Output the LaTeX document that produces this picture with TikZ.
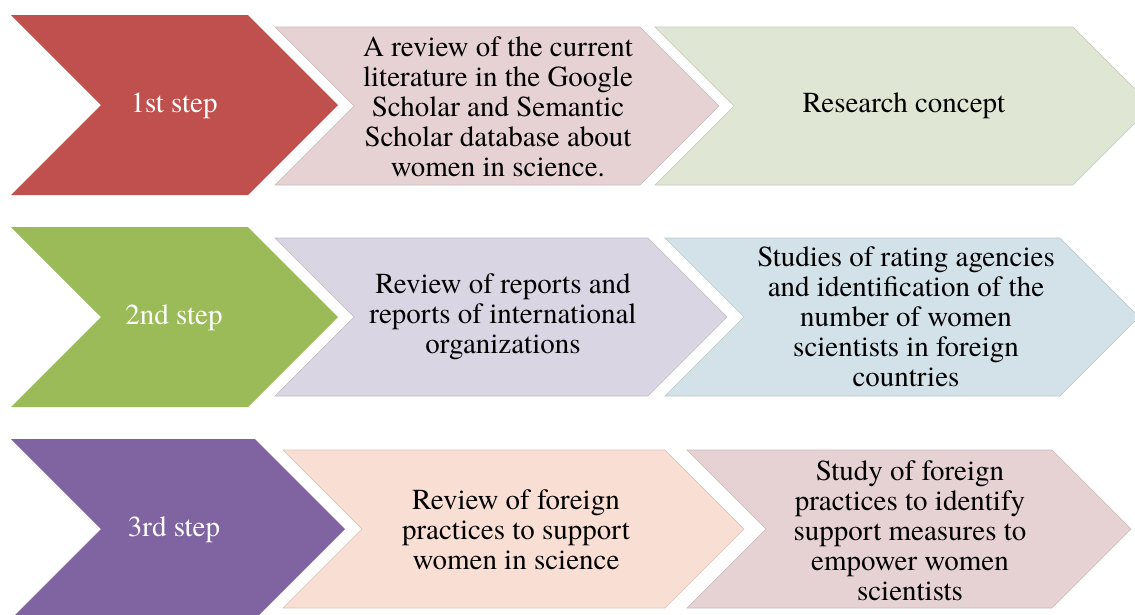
\documentclass[tikz,border=0pt]{standalone}
\usepackage{fontspec}
\setmainfont{texgyretermes}[Extension=.otf, UprightFont=*-regular, BoldFont=*-bold]
\usepackage{tikz}

\definecolor{stepred}{HTML}{C0504D}
\definecolor{stepgreen}{HTML}{9BBB59}
\definecolor{steppurple}{HTML}{8064A2}
\definecolor{taskrose}{HTML}{E6D2D3}
\definecolor{tasksage}{HTML}{DFE6D3}
\definecolor{tasklilac}{HTML}{DAD5E2}
\definecolor{tasksky}{HTML}{D3E2E8}
\definecolor{taskpeach}{HTML}{F9DED3}

\begin{document}
\begin{tikzpicture}[x=1pt, y=-1pt,
        bigstep/.style={fill=#1},
        substep/.style={fill=#1, draw=#1!88!black, line width=0.6pt},
        steplabel/.style={text=white, align=center, font=\rmfamily\fontsize{29}{30}\selectfont},
        tasklabel/.style={text=black, align=center, font=\rmfamily\fontsize{29}{30}\selectfont}]
        % Fix the page to the size of the picture
        \useasboundingbox (0,0) rectangle (1135,614);
        \clip (0,0) rectangle (1135,614);

        % First row: the step and its two tasks
        \fill[bigstep=stepred] (11,15) -- (248,15) -- (338,105) -- (248,195) -- (11,195) -- (101,105) -- cycle;
        \draw[substep=taskrose] (275,27) -- (640,27) -- (719,106) -- (640,185) -- (275,185) -- (354,106) -- cycle;
        \draw[substep=tasksage] (655,27) -- (1073,27) -- (1152,106) -- (1073,185) -- (655,185) -- (734,106) -- cycle;
        \node[steplabel] (step1) at (174,106) {1st step};
        \node[tasklabel] (review1) at (498,107) {A review of the current\\literature in the Google\\Scholar and Semantic\\Scholar database about\\women in science.};
        \node[tasklabel] (concept1) at (904,106) {Research concept};

        % Second row
        \fill[bigstep=stepgreen] (11,227) -- (248,227) -- (338,317) -- (248,407) -- (11,407) -- (101,317) -- cycle;
        \draw[substep=tasklilac] (275,238) -- (648,238) -- (727,317) -- (648,396) -- (275,396) -- (354,317) -- cycle;
        \draw[substep=tasksky] (665,238) -- (1060,238) -- (1139,317) -- (1060,396) -- (665,396) -- (744,317) -- cycle;
        \node[steplabel] (step2) at (174,318) {2nd step};
        \node[tasklabel] (review2) at (503,317) {Review of reports and\\reports of international\\organizations};
        \node[tasklabel] (ratings2) at (906,317) {Studies of rating agencies\\and identification of the\\number of women\\scientists in foreign\\countries};

        % Third row
        \fill[bigstep=steppurple] (11,439) -- (255,439) -- (345,529) -- (255,619) -- (11,619) -- (101,529) -- cycle;
        \draw[substep=taskpeach] (283,450) -- (665,450) -- (744,529) -- (665,608) -- (283,608) -- (362,529) -- cycle;
        \draw[substep=taskrose] (687,450) -- (1052,450) -- (1131,529) -- (1052,608) -- (687,608) -- (766,529) -- cycle;
        \node[steplabel] (step3) at (174,530) {3rd step};
        \node[tasklabel] (review3) at (516,530) {Review of foreign\\practices to support\\women in science};
        \node[tasklabel] (study3) at (910,531) {Study of foreign\\practices to identify\\support measures to\\empower women\\scientists};
    \end{tikzpicture}
\end{document}
